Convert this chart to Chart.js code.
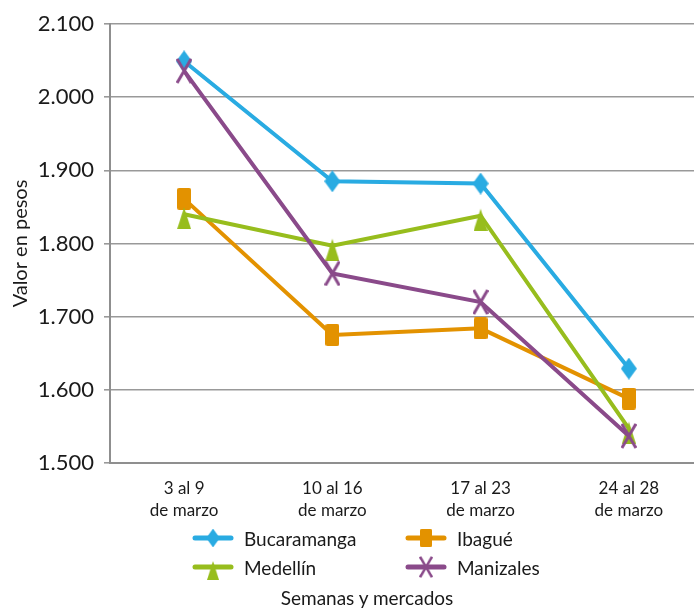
<!DOCTYPE html>
<html>
<head>
<meta charset="utf-8">
<script src="https://cdn.jsdelivr.net/npm/chart.js@4"></script>
<style>
  html, body { margin: 0; padding: 0; background: #fff; overflow: hidden; }
  #wrap { position: relative; width: 730px; height: 609px; overflow: hidden; }
  canvas#chart { position: absolute; left: 0; top: 0; }
  .leg { position: absolute; display: flex; align-items: center; font-family: Lato, sans-serif; font-size: 19px; color: #1a1a1a; }
  .leg canvas { margin-right: 10px; }
  #xtitle { position: absolute; left: 0; width: 734px; top: 586px; text-align: center; font-family: Lato, sans-serif; font-size: 19px; color: #1a1a1a; }
</style>
</head>
<body>
<div id="wrap">
  <canvas id="chart" width="717" height="609"></canvas>
  <div id="legend"></div>
  <div id="xtitle">Semanas y mercados</div>
</div>
<script>
const semanas = [['3 al 9', 'de marzo'], ['10 al 16', 'de marzo'], ['17 al 23', 'de marzo'], ['24 al 28', 'de marzo']];
const bucaramanga = [2049, 1885, 1882, 1629];
const ibague = [1861, 1675, 1684, 1588];
const medellin = [1840, 1797, 1838, 1547];
const manizales = [2036, 1759, 1720, 1537];

const azul = '#29abe2', naranja = '#e39200', verde = '#97bd1d', morado = '#8a4a8a';

// markers are taller than wide in the original, so draw them by hand
function marker(kind, color) {
  const c = document.createElement('canvas');
  const g = c.getContext('2d');
  if (kind === 'diamond') {
    c.width = 16; c.height = 22;
    g.fillStyle = color;
    g.beginPath(); g.moveTo(8, 0); g.lineTo(16, 11); g.lineTo(8, 22); g.lineTo(0, 11); g.closePath(); g.fill();
  } else if (kind === 'square') {
    c.width = 14; c.height = 22;
    g.fillStyle = color;
    g.beginPath(); g.roundRect(0, 0, 14, 22, 2); g.fill();
  } else if (kind === 'triangle') {
    c.width = 14; c.height = 30;
    g.fillStyle = color;
    g.beginPath(); g.moveTo(7, 8); g.lineTo(14, 30); g.lineTo(0, 30); g.closePath(); g.fill();
  } else {
    c.width = 16; c.height = 26;
    g.strokeStyle = color; g.lineWidth = 3;
    g.beginPath(); g.moveTo(1, 1); g.lineTo(15, 25); g.moveTo(15, 1); g.lineTo(1, 25); g.stroke();
  }
  return c;
}

function fmt(v) {
  const s = String(Math.round(v));
  return s.length > 3 ? s.slice(0, s.length - 3) + '.' + s.slice(-3) : s;
}

const series = [
  { label: 'Bucaramanga', data: bucaramanga, color: azul, kind: 'diamond', order: 4 },
  { label: 'Ibagué', data: ibague, color: naranja, kind: 'square', order: 3 },
  { label: 'Medellín', data: medellin, color: verde, kind: 'triangle', order: 2 },
  { label: 'Manizales', data: manizales, color: morado, kind: 'cross', order: 1 }
];

new Chart(document.getElementById('chart'), {
  type: 'line',
  data: {
    labels: semanas,
    datasets: series.map(s => ({
      label: s.label,
      data: s.data,
      borderColor: s.color,
      backgroundColor: s.color,
      borderWidth: 4,
      pointStyle: marker(s.kind, s.color),
      pointRadius: 10,
      order: s.order,
      tension: 0
    }))
  },
  options: {
    responsive: false,
    animation: false,
    layout: { padding: { top: 24, right: 3, bottom: 0, left: 0 } },
    plugins: { legend: { display: false }, tooltip: { enabled: false } },
    scales: {
      x: {
        offset: true,
        grid: { display: false },
        border: { display: true, color: '#8f8f8f', width: 2 },
        ticks: { color: '#1a1a1a', padding: 6, maxRotation: 0, font: { family: 'Lato', size: 17, lineHeight: 1.3 } },
        afterFit: (s) => { s.height = 146; }
      },
      y: {
        min: 1500,
        max: 2100,
        ticks: { stepSize: 100, color: '#1a1a1a', padding: 10, callback: (v) => fmt(v), font: { family: 'Lato', size: 22 } },
        grid: { color: '#999', lineWidth: 1.6, tickLength: 6 },
        border: { display: true, color: '#8f8f8f', width: 2 },
        title: { display: true, text: 'Valor en pesos', color: '#1a1a1a', padding: { top: 9, bottom: 0 }, font: { family: 'Lato', size: 20 } },
        afterFit: (s) => { s.width = 110; }
      }
    }
  }
});

// legend, two columns, as in the original
const legendPos = [[192, 538], [405, 538], [192, 567], [405, 567]];
const legend = document.getElementById('legend');
series.forEach((s, i) => {
  const item = document.createElement('div');
  item.className = 'leg';
  item.style.left = legendPos[i][0] + 'px';
  item.style.top = (legendPos[i][1] - 15) + 'px';
  item.style.height = '30px';
  const sym = document.createElement('canvas');
  sym.width = 42; sym.height = 30;
  const g = sym.getContext('2d');
  g.strokeStyle = s.color; g.lineWidth = 5; g.lineCap = 'round';
  g.beginPath(); g.moveTo(3, 15); g.lineTo(39, 15); g.stroke();
  const m = marker(s.kind, s.color);
  const sc = 0.85;
  g.drawImage(m, 21 - m.width * sc / 2, 15 - m.height * sc / 2, m.width * sc, m.height * sc);
  const t = document.createElement('span');
  t.textContent = s.label;
  item.appendChild(sym);
  item.appendChild(t);
  legend.appendChild(item);
});
</script>
</body>
</html>
